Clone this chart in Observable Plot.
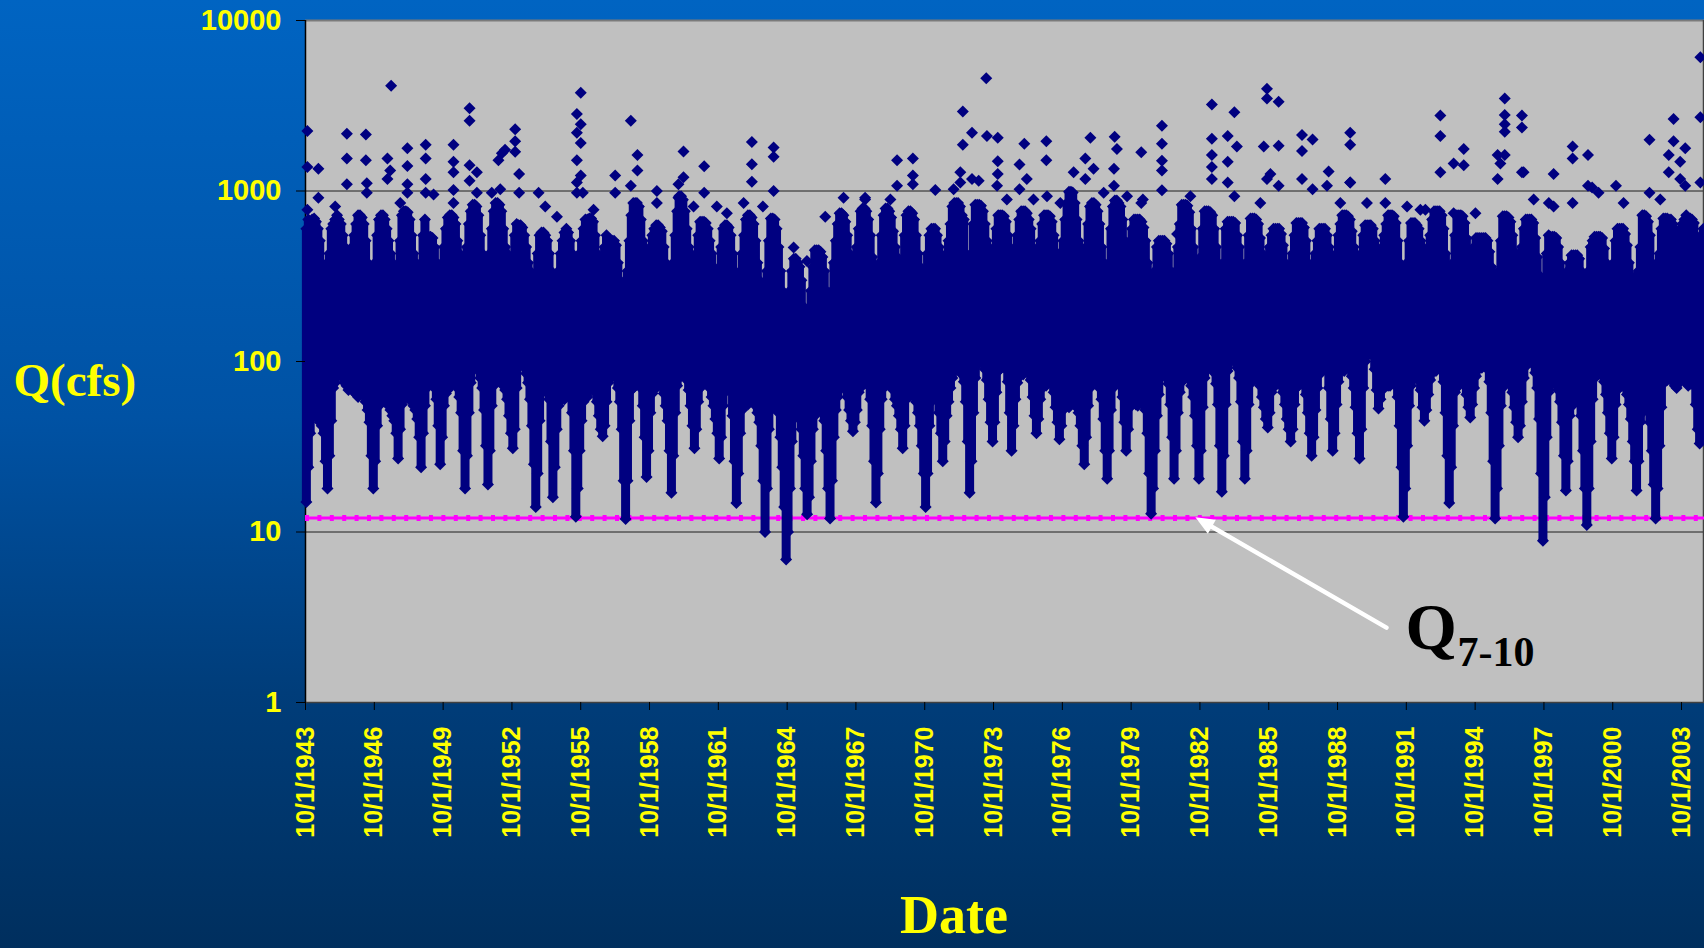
<!DOCTYPE html>
<html>
<head>
<meta charset="utf-8">
<script src="https://cdn.jsdelivr.net/npm/d3@7"></script>
<script src="https://cdn.jsdelivr.net/npm/@observablehq/plot@0.6"></script>
<style>
  html, body { margin: 0; padding: 0; }
  body { width: 1704px; height: 948px; overflow: hidden;
    background: linear-gradient(to bottom, #0064c2 0%, #0052a4 44%, #003d7a 73%, #002f5e 100%); }
  svg { display: block; }
</style>
</head>
<body>
<script>
// ---------------- DATA ----------------
// Daily discharge summarised per calendar month: lowest and highest flow of the dense band (cfs).
// The first row starts in October 1943, the last row ends in September 2004.
const years = [1943,1944,1945,1946,1947,1948,1949,1950,1951,1952,1953,1954,1955,1956,1957,1958,1959,1960,
  1961,1962,1963,1964,1965,1966,1967,1968,1969,1970,1971,1972,1973,1974,1975,1976,1977,1978,1979,1980,
  1981,1982,1983,1984,1985,1986,1987,1988,1989,1990,1991,1992,1993,1994,1995,1996,1997,1998,1999,2000,
  2001,2002,2003,2004];
const firstMonth = 9; // October (0-based) for the first row

const monthlyLow = [
  [15,24,38],
  [48,52,50,46,44,42,38,26,18,28,45,70],
  [75,90,95,85,80,75,72,68,72,70,66,64],
  [62,66,70,64,58,52,44,28,18,26,42,55],
  [58,62,60,58,55,52,48,45,38,27,40,56],
  [60,62,66,60,58,55,52,46,36,24,38,55],
  [70,75,78,75,70,60,42,25,36,55,65,68],
  [72,78,80,75,70,62,50,30,18,28,50,75],
  [90,95,92,88,80,70,52,32,19,30,55,72],
  [75,80,82,78,72,68,60,48,38,31,40,70],
  [95,100,98,92,85,75,60,42,25,14,22,45],
  [65,75,78,72,60,34,16,24,40,55,60,62],
  [60,65,68,62,50,30,12.3,18,30,45,58,62],
  [62,68,72,70,66,58,48,40,36.5,42,58,75],
  [80,88,86,80,70,58,40,20,11.9,20,45,68],
  [70,75,80,76,70,55,36,21,30,50,65,70],
  [70,74,76,72,65,55,45,30,17,28,50,72],
  [80,85,88,84,78,68,55,42,31,40,58,70],
  [72,76,78,75,70,62,55,46,38,27,36,55],
  [66,70,72,68,48,26,14.8,22,38,52,58,60],
  [56,60,62,58,55,50,44,32,20,10,18,40],
  [52,62,64,60,50,36,24,14,6.9,10,18,34],
  [46,50,52,48,40,28,18,12.7,16,26,40,48],
  [50,55,55,52,45,30,18,12,20,36,52,62],
  [68,72,74,70,62,52,45,39,44,52,66,72],
  [72,76,78,72,60,42,26,14.9,22,40,60,70],
  [72,75,78,74,68,60,55,48,40,31,42,60],
  [62,66,68,64,58,50,42,32,22,14,22,42],
  [58,62,64,60,50,38,26,34,48,58,70,80],
  [88,92,95,90,84,76,58,34,17,26,50,80],
  [95,100,104,98,90,78,60,44,34,44,66,88],
  [90,95,96,90,76,50,30,42,60,75,82,84],
  [84,88,90,86,78,62,48,38,46,60,70,72],
  [72,76,78,74,66,54,44,35,42,52,56,55],
  [54,56,58,56,54,50,42,32,25,36,55,70],
  [74,78,80,76,70,60,46,30,20.5,30,52,70],
  [72,76,78,74,62,44,30,40,54,62,60,56],
  [55,58,60,58,52,38,22,12.8,18,30,48,64],
  [80,85,86,82,74,56,36,20.5,30,50,66,76],
  [78,82,84,80,72,62,48,32,20.5,30,54,80],
  [90,95,98,94,86,74,56,32,17.2,28,56,88],
  [98,102,106,100,92,80,58,34,20.5,30,56,76],
  [76,80,82,78,72,62,54,46,41,50,66,72],
  [72,76,76,72,66,56,46,40,34,40,56,70],
  [72,75,76,72,64,50,38,28,36,52,70,86],
  [86,90,92,88,70,46,30,38,56,76,88,90],
  [88,92,94,90,82,70,54,38,27,40,70,100],
  [108,112,115,108,90,68,53,60,68,76,74,72],
  [72,75,76,72,62,42,24,12.3,18,32,55,72],
  [78,80,82,78,68,54,45,52,64,78,86,88],
  [88,92,94,90,76,50,28,14.8,24,42,66,82],
  [72,76,78,74,64,54,47,56,70,82,90,92],
  [92,96,96,90,76,50,26,12,18,32,55,72],
  [72,76,78,74,66,54,44,36,42,58,80,96],
  [96,100,102,96,86,70,46,22,8.9,16,36,66],
  [72,76,78,74,68,58,44,28,17.5,26,48,58],
  [56,60,62,58,48,30,18,11,18,34,60,80],
  [82,86,88,84,76,64,50,38,27,36,56,70],
  [70,72,74,70,64,56,46,34,26,17.5,26,44],
  [50,52,54,52,44,30,19,12,18,32,54,76],
  [76,78,80,78,76,72,70,74,78,80,78,76],
  [72,74,76,72,56,40,33,35,38]
];

const monthlyHigh = [
  [600,680,600],
  [680,690,660,600,510,380,300,260,340,430,600,640],
  [680,720,680,640,550,470,430,380,430,470,550,640],
  [720,720,700,640,510,380,340,270,320,380,550,680],
  [720,720,680,600,510,430,380,340,300,340,510,720],
  [760,760,750,680,550,430,380,340,320,380,550,680],
  [540,540,540,530,470,380,340,320,380,470,600,700],
  [720,720,700,640,510,430,360,320,360,470,640,760],
  [830,830,810,720,550,430,380,340,360,430,600,760],
  [850,850,830,760,600,470,430,380,360,410,550,640],
  [630,630,610,550,470,380,340,300,260,300,430,550],
  [570,570,550,510,430,340,260,260,300,340,430,510],
  [570,600,570,510,430,340,260,300,430,510,600,680],
  [680,690,690,660,550,430,380,340,380,470,550,510],
  [510,510,510,480,380,300,240,210,260,340,510,720],
  [850,850,850,810,680,510,380,340,380,470,550,600],
  [630,630,610,580,470,380,320,270,300,380,550,760],
  [930,930,890,760,600,470,380,340,360,430,550,660],
  [660,660,650,600,510,430,360,320,310,340,470,600],
  [630,630,610,550,430,300,260,270,340,430,550,680],
  [720,720,700,640,510,380,300,260,210,210,340,510],
  [690,690,680,600,470,340,260,210,170,170,260,340],
  [400,400,380,360,300,210,170,150,190,260,360,450],
  [450,450,440,410,340,260,190,170,260,380,510,640],
  [740,740,720,660,550,430,380,340,380,470,600,760],
  [790,790,760,680,550,410,300,260,300,380,550,720],
  [790,790,760,700,580,470,410,380,360,380,550,720],
  [760,760,740,680,550,430,360,300,260,270,430,550],
  [600,600,600,550,470,360,300,340,430,510,640,810],
  [850,850,850,810,720,680,430,340,320,430,640,830],
  [830,830,820,760,640,510,430,380,380,470,600,720],
  [720,720,710,660,550,430,340,380,470,550,680,760],
  [760,760,740,680,600,470,410,380,430,510,640,720],
  [720,720,710,660,550,440,380,340,380,510,680,850],
  [990,990,980,850,680,510,380,340,360,470,640,810],
  [850,850,830,760,640,470,380,320,320,380,600,810],
  [880,880,850,810,680,510,380,430,510,600,680,680],
  [680,680,660,610,510,380,270,240,260,340,470,510],
  [510,510,510,490,430,340,270,260,340,470,640,830],
  [830,830,820,750,600,470,380,320,320,410,600,760],
  [760,760,750,720,600,470,380,300,300,380,600,660],
  [660,660,660,650,550,470,380,300,300,380,550,690],
  [690,690,680,640,530,430,380,360,380,470,550,600],
  [600,600,600,560,480,380,340,320,340,430,550,650],
  [650,650,650,610,510,380,320,300,340,430,510,600],
  [600,600,600,550,470,340,280,320,430,550,640,720],
  [720,720,710,680,580,470,380,340,360,430,550,630],
  [630,630,630,600,510,410,360,380,470,550,640,720],
  [720,720,710,650,510,380,270,240,270,380,510,650],
  [650,650,630,600,510,410,360,390,470,550,680,760],
  [760,760,760,720,600,430,320,260,300,380,550,720],
  [720,720,710,650,530,430,380,410,470,530,530,530],
  [530,530,530,510,440,360,270,220,260,340,510,710],
  [710,710,700,660,550,440,380,340,380,470,600,680],
  [680,680,680,650,530,410,320,260,210,260,430,550],
  [540,540,540,530,470,380,320,270,270,340,380,420],
  [420,420,420,400,340,260,190,170,340,470,510,540],
  [540,540,540,530,460,380,340,310,320,380,510,600],
  [600,600,600,560,480,380,320,270,260,260,340,470],
  [720,720,710,660,550,380,260,210,260,430,600,690],
  [690,690,680,680,640,550,470,510,600,640,680,720],
  [690,690,680,650,550,440,380,430,600]
];

// Isolated high-flow days standing well above the dense band (decimal year, cfs)
const peakYears = [1943.83,1943.83,1944.31,1945.55,1945.55,1946.38,1946.38,1946.42,1947.48,1947.32,1947.44,
  1948.19,1948.19,1948.19,1948.99,1948.99,1948.99,1950.20,1950.20,1950.20,1950.20,1950.90,1950.90,1950.90,1950.90,
  1951.22,1952.16,1952.31,1952.45,1952.89,1952.89,1952.89,1953.06,1955.58,1955.58,1955.58,1955.58,
  1955.75,1955.75,1955.75,1955.75,1957.25,1957.25,1957.93,1958.22,1958.22,1959.07,1960.01,1960.23,1960.23,
  1961.13,1961.13,1963.21,1963.21,1963.21,1964.16,1964.16,1964.16,1966.41,1967.21,1968.15,1969.54,
  1970.23,1970.23,1970.23,1971.21,1972.30,1972.41,1972.41,1972.81,1973.43,1973.46,1973.93,1973.93,1973.93,
  1974.88,1975.09,1975.20,1976.05,1976.05,1977.75,1977.97,1979.00,1979.03,1979.13,1980.19,
  1981.09,1981.09,1981.09,1981.09,1983.27,1983.27,1983.27,1983.27,1983.96,1983.96,1984.25,1984.36,1985.53,
  1985.67,1985.67,1985.82,1986.18,1986.18,1987.20,1987.20,1987.66,1988.36,1989.30,1989.30,1989.30,1990.83,
  1993.23,1993.23,1993.81,1994.25,1995.73,1995.85,1996.04,1996.04,1996.04,1996.04,1996.79,1996.79,1996.86,
  1998.17,1999.00,1999.00,1999.67,1999.85,2000.89,2002.35,2003.19,2003.40,2003.40,2003.69,2003.91,
  2004.57,2004.57,2004.57];
const peakFlows = [2250,1383,1351,2168,1552,2148,1517,1112,4140,1552,1320,
  1783,1402,1097,1867,1552,1176,1867,1482,1290,1014,3062,2582,1415,1149,
  1290,1517,1663,1743,2300,1955,1700,1260,2832,2197,1517,1123,
  3775,2466,1910,1232,1232,977,2582,1626,1320,1000,1097,1703,1203,
  1396,977,1937,1435,1133,1800,1588,1000,706,912,912,1517,
  1552,1232,1097,1014,1290,2925,1867,2197,4580,2099,2051,1496,1260,
  1429,1893,1176,1955,1517,1552,2051,1351,2079,1766,1687,
  2410,1893,1503,1320,3213,2023,1626,1383,2099,1482,2899,1825,1825,
  3972,3490,1260,3335,1841,2127,1718,2004,1302,2197,1867,1123,1176,
  2768,2099,1448,1766,1626,1448,3490,2793,2466,2228,2768,2355,1290,
  1260,1825,1552,1626,1047,1072,2000,1626,2642,1955,1176,1783,
  6080,2704,1123];

// Scattered high days just above the dense band (decimal year, cfs)
const scatterYears = [1943.83,1944.31,1945.04,1945.55,1946.42,1947.32,1947.88,1948.19,1948.99,1949.33,1950.20,
  1951.22,1951.87,1952.24,1953.06,1953.91,1954.20,1954.71,1955.58,1955.84,1956.31,1957.93,1959.07,1960.01,
  1960.67,1961.68,1962.12,1962.85,1963.69,1965.03,1965.61,1968.15,1969.25,1969.54,1972.01,1972.30,1972.81,
  1973.10,1973.90,1974.33,1974.88,1975.49,1976.08,1976.66,1977.24,1977.75,1978.11,1978.55,1979.00,1979.57,
  1980.19,1980.26,1981.09,1981.75,1982.33,1983.27,1983.96,1984.25,1985.38,1985.67,1986.18,1987.20,1987.66,
  1988.29,1988.87,1989.30,1990.03,1990.83,1991.78,1992.36,1992.58,1993.23,1993.81,1994.25,1994.76,1995.73,
  1996.04,1996.79,1997.30,1997.96,1998.17,1999.00,1999.67,2000.13,2001.22,2002.35,2002.82,2003.19,2003.69,
  2003.91];
const scatterFlows = [775,912,812,1097,977,1176,850,977,977,955,850,
  977,977,1023,977,977,812,707,977,977,775,1072,850,912,
  812,812,740,850,812,466,388,891,891,1072,1023,1123,1176,
  1149,1072,891,1023,891,933,850,1290,1176,1351,977,1072,933,
  850,891,1009,560,933,1176,1123,933,850,1176,1072,1176,1023,
  1072,850,1123,850,850,812,775,775,1290,740,1415,740,1176,
  1626,1290,891,850,812,850,1072,977,850,977,891,1290,1482,
  1072];

const q710 = 12.1;                      // 7-day, 10-year low flow (cfs)
const yTicks = [1, 10, 100, 1000, 10000];
const gridValues = [10, 100, 1000];
const xTickLabels = ["10/1/1943","10/1/1946","10/1/1949","10/1/1952","10/1/1955","10/1/1958","10/1/1961",
  "10/1/1964","10/1/1967","10/1/1970","10/1/1973","10/1/1976","10/1/1979","10/1/1982","10/1/1985",
  "10/1/1988","10/1/1991","10/1/1994","10/1/1997","10/1/2000","10/1/2003"];
const yTitle = "Q(cfs)";
const xTitle = "Date";
const noteMain = "Q";
const noteSub = "7-10";
const arrowFromYear = 1990.88, arrowFromFlow = 2.75;   // arrow tail
const arrowToYear = 1982.55, arrowToFlow = 12.2;       // arrow tip (on the Q7-10 line)

// ---------------- BUILD ----------------
const yearToDate = t => new Date(Date.UTC(Math.floor(t), 0, 1) + (t - Math.floor(t)) * 365.2425 * 864e5);
const parseLabel = s => { const [m, d, y] = s.split("/").map(Number); return new Date(Date.UTC(y, m - 1, d)); };

const records = [];
years.forEach((yr, i) => {
  const m0 = i === 0 ? firstMonth : 0;
  monthlyLow[i].forEach((lo, j) => {
    const hi = monthlyHigh[i][j] ?? lo;
    records.push({date: new Date(Date.UTC(yr, m0 + j, 15)), lo, hi});
  });
});
const peaks = peakYears.map((t, i) => ({date: yearToDate(t), q: peakFlows[i]}))
  .concat(scatterYears.map((t, i) => ({date: yearToDate(t), q: scatterFlows[i]})));
const tickDates = xTickLabels.map(parseLabel);
const labelOf = new Map(tickDates.map((d, i) => [+d, xTickLabels[i]]));
const arrow = {x1: yearToDate(arrowFromYear), y1: arrowFromFlow, x2: yearToDate(arrowToYear), y2: arrowToFlow};

const navy = "#000080";
const yellow = "#ffff00";
const sans = "'Liberation Sans', Arial, sans-serif";
const serif = "'Liberation Serif', 'Times New Roman', serif";

const diamond = {draw(ctx, size) {
  const r = Math.sqrt(size / Math.PI);
  ctx.moveTo(0, -r); ctx.lineTo(r, 0); ctx.lineTo(0, r); ctx.lineTo(-r, 0); ctx.closePath();
}};
const arrowHead = {draw(ctx) {
  const ux = -0.866, uy = -0.5, L = 19, W = 16;
  const bx = -ux * L, by = -uy * L, px = -uy, py = ux;
  ctx.moveTo(0, 0);
  ctx.lineTo(bx + px * W / 2, by + py * W / 2);
  ctx.lineTo(bx - px * W / 2, by - py * W / 2);
  ctx.closePath();
}};

const xStart = new Date(Date.UTC(1943, 9, 1));
const xEnd = new Date(Date.UTC(2004, 9, 1));

const chart = Plot.plot({
  width: 1704,
  height: 948,
  marginLeft: 305,
  marginRight: 0,
  marginTop: 20,
  marginBottom: 246,
  x: {type: "utc", domain: [xStart, xEnd]},
  y: {type: "log", domain: [1, 10000]},
  style: {background: "transparent", overflow: "visible"},
  marks: [
    Plot.frame({fill: "#c0c0c0", stroke: "none"}),
    Plot.ruleY(gridValues, {stroke: "#000", strokeWidth: 1, strokeOpacity: 0.85}),
    Plot.ruleY([10000], {stroke: "#7a7a7a", strokeWidth: 2}),
    Plot.ruleY([1], {stroke: "#404040", strokeWidth: 1.5}),
    Plot.ruleX([xStart], {stroke: "#000", strokeWidth: 1.5}),
    Plot.ruleX([xEnd], {stroke: "#404040", strokeWidth: 1.5, dx: -1}),
    Plot.ruleY([q710], {stroke: "#ff00ff", strokeWidth: 3}),
    Plot.ruleY([q710], {stroke: "#ff00ff", strokeWidth: 6, strokeDasharray: "4 8.4"}),
    Plot.ruleX(records, {x: "date", y1: "lo", y2: "hi", stroke: navy, strokeWidth: 9, insetTop: 1, insetBottom: 1}),
    Plot.dot(records, {x: "date", y: "lo", symbol: diamond, r: 6, fill: navy}),
    Plot.dot(records, {x: "date", y: "hi", symbol: diamond, r: 6, fill: navy}),
    Plot.dot(peaks, {x: "date", y: "q", symbol: diamond, r: 6, fill: navy}),
    // axes
    Plot.axisY({ticks: yTicks, tickSize: 9, tickFormat: () => "", stroke: "#000", label: null}),
    Plot.axisY({ticks: yTicks, tickSize: 0, tickPadding: 24, tickFormat: d => String(d),
      fill: yellow, color: yellow, fontSize: 29, fontWeight: "bold", fontFamily: sans, label: null}),
    Plot.axisX({ticks: tickDates, tickSize: 8, tickFormat: () => "", stroke: "#000", label: null}),
    Plot.axisX({ticks: tickDates, tickSize: 0, tickPadding: 24, tickRotate: -90, tickFormat: d => labelOf.get(+d),
      fill: yellow, color: yellow, fontSize: 25, fontWeight: "bold", fontFamily: sans, label: null}),
    // titles
    Plot.text([yTitle], {text: d => d, frameAnchor: "left", dx: -292, dy: 19, textAnchor: "start", lineAnchor: "middle",
      fill: yellow, fontSize: 47, fontWeight: "bold", fontFamily: serif}),
    Plot.text([xTitle], {text: d => d, frameAnchor: "bottom", dx: -51, dy: 213, textAnchor: "middle", lineAnchor: "middle",
      fill: yellow, fontSize: 54, fontWeight: "bold", fontFamily: serif}),
    // Q7-10 annotation
    Plot.arrow([arrow], {x1: "x1", y1: "y1", x2: "x2", y2: "y2", stroke: "white", strokeWidth: 4.5,
      headLength: 0, insetEnd: 12}),
    Plot.dot([arrow], {x: "x2", y: "y2", symbol: arrowHead, r: 5, fill: "white"}),
    Plot.text([noteMain], {text: d => d, frameAnchor: "top-left", dx: 1100, dy: 607, textAnchor: "start", lineAnchor: "middle",
      fill: "#000", fontSize: 66, fontWeight: "bold", fontFamily: serif}),
    Plot.text([noteSub], {text: d => d, frameAnchor: "top-left", dx: 1152, dy: 632, textAnchor: "start", lineAnchor: "middle",
      fill: "#000", fontSize: 42, fontWeight: "bold", fontFamily: serif})
  ]
});
document.body.appendChild(chart);
</script>
</body>
</html>
